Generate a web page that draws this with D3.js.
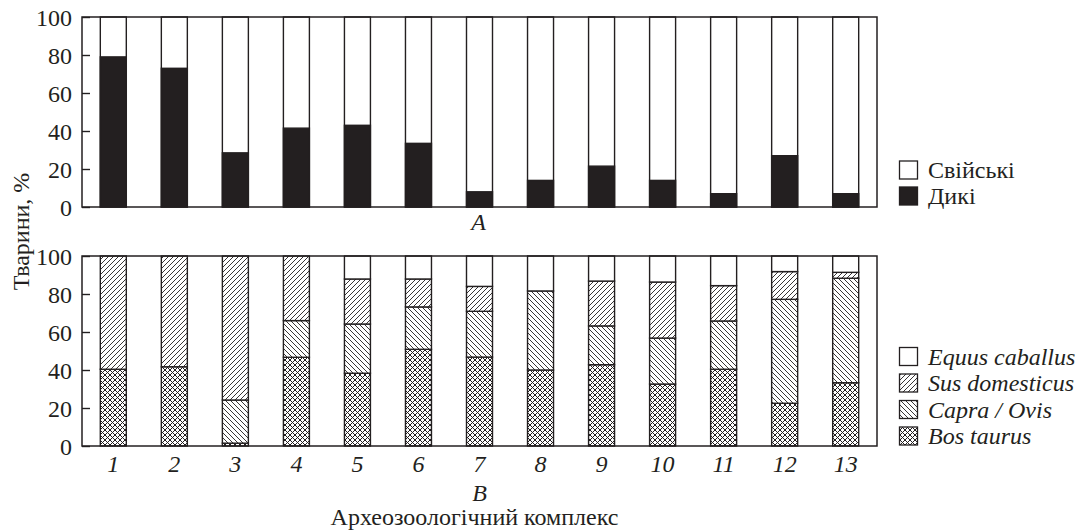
<!DOCTYPE html>
<html>
<head>
<meta charset="utf-8">
<script src="https://cdn.jsdelivr.net/npm/d3@7"></script>
</head>
<body style="margin:0;background:#fff">
<svg id="chart" width="1077" height="530" font-family="Liberation Serif"></svg>
<script>
// Archaeozoological complexes 1–13
const complexes = ["1","2","3","4","5","6","7","8","9","10","11","12","13"];

// Panel A: share of wild animals, %  (domestic = remainder to 100)
const wild = [79, 73, 28.5, 41.5, 43, 33.5, 8, 14, 21.5, 14, 7, 27, 7];

// Panel B: species composition of domestic animals, %
const bosTaurus     = [40.4, 41.7, 1.5, 46.7, 38.3, 50.9, 46.8, 40.0, 42.8, 32.6, 40.4, 22.5, 33.3];
const capraOvis     = [0, 0, 22.7, 19.3, 25.9, 22.3, 24.1, 41.6, 20.4, 24.2, 25.4, 54.7, 55.0];
const susDomesticus = [59.6, 58.3, 75.8, 34.0, 23.7, 14.7, 13.1, 0, 23.6, 29.5, 18.6, 14.6, 3.1];
const equusCaballus = [0, 0, 0, 0, 12.1, 12.1, 16.0, 18.4, 13.2, 13.7, 15.6, 8.2, 8.6];

const yTicks = [0, 20, 40, 60, 80, 100];
const legendA = ["Свійські", "Дикі"];
const legendB = ["Equus caballus", "Sus domesticus", "Capra / Ovis", "Bos taurus"];

const INK = "#231f20";
const FONT = "Liberation Serif";
const FS = 24;
const svg = d3.select("#chart");
svg.append("rect").attr("width", 1077).attr("height", 530).attr("fill", "#fff");

function label(parent, txt) {
  return parent.append("text").attr("font-family", FONT)
    .style("font-family", '"Liberation Serif"').attr("font-size", FS)
    .attr("fill", INK).text(txt);
}

// Hatch patterns
const defs = svg.append("defs");
const S = 5;
function pattern(id, paths, sw) {
  const p = defs.append("pattern").attr("id", id)
    .attr("patternUnits", "userSpaceOnUse").attr("width", S).attr("height", S);
  p.append("rect").attr("width", S).attr("height", S).attr("fill", "#fff");
  paths.forEach(d => p.append("path").attr("d", d)
    .attr("stroke", INK).attr("stroke-width", sw).attr("fill", "none"));
}
const fwd = `M0,${S} L${S},0 M${-1},1 L1,${-1} M${S-1},${S+1} L${S+1},${S-1}`;
const back = `M0,0 L${S},${S} M${-1},${S-1} L1,${S+1} M${S-1},${-1} L${S+1},1`;
pattern("hatch-fwd", [fwd], 0.9);
pattern("hatch-back", [back], 0.9);
pattern("hatch-cross", [fwd, back], 1.0);

const left = 82, right = 877;
const x = d3.scaleBand().domain(complexes).range([left, right])
  .paddingInner(0.574).paddingOuter(0.3);

function drawFrame(top, bottom) {
  const y = d3.scaleLinear().domain([0, 100]).range([bottom, top]);
  const g = svg.append("g").attr("transform", `translate(${left},0)`);
  g.call(d3.axisLeft(y).tickValues(yTicks).tickSize(-8).tickPadding(10)
      .tickFormat(d3.format("d")))
    .attr("font-family", FONT).attr("font-size", FS)
    .call(a => a.select(".domain").remove())
    .call(a => a.selectAll("line").attr("stroke", INK).attr("stroke-width", 1.4))
    .call(a => a.selectAll("text").attr("fill", INK).attr("font-family", FONT)
      .style("font-family", '"Liberation Serif"').attr("dy", "0.34em"));
  return y;
}
function drawBox(top, bottom) {
  svg.append("rect").attr("x", left).attr("y", top)
    .attr("width", right - left).attr("height", bottom - top)
    .attr("fill", "none").attr("stroke", INK).attr("stroke-width", 1.5);
}

// ---------- Panel A ----------
const topA = 17, botA = 207;
const yA = drawFrame(topA, botA);
const gA = svg.append("g");
gA.selectAll("rect.dom").data(complexes).join("rect")
  .attr("x", d => x(d)).attr("width", x.bandwidth())
  .attr("y", yA(100)).attr("height", yA(0) - yA(100))
  .attr("fill", "#fff").attr("stroke", INK).attr("stroke-width", 1.4);
gA.selectAll("rect.wild").data(complexes).join("rect")
  .attr("x", d => x(d)).attr("width", x.bandwidth())
  .attr("y", (d, i) => yA(wild[i])).attr("height", (d, i) => yA(0) - yA(wild[i]))
  .attr("fill", INK).attr("stroke", INK).attr("stroke-width", 1.4);
drawBox(topA, botA);

label(svg, "A").attr("x", (left + right) / 2 - 1).attr("y", 230)
  .attr("text-anchor", "middle").attr("font-style", "italic");

// Legend A
const legAFill = ["#fff", INK];
legendA.forEach((t, i) => {
  const yy = 161 + i * 26;
  svg.append("rect").attr("x", 899.5).attr("y", yy).attr("width", 18).attr("height", 18)
    .attr("fill", legAFill[i]).attr("stroke", INK).attr("stroke-width", 1.3);
  label(svg, t).attr("x", 928).attr("y", yy + 17);
});

// ---------- Panel B ----------
const topB = 256, botB = 446;
const yB = drawFrame(topB, botB);
const keys = ["bos", "capra", "sus", "equus"];
const fills = {bos: "url(#hatch-cross)", capra: "url(#hatch-back)",
               sus: "url(#hatch-fwd)", equus: "#fff"};
const rows = complexes.map((c, i) => ({
  c, bos: bosTaurus[i], capra: capraOvis[i], sus: susDomesticus[i], equus: equusCaballus[i]
}));
const series = d3.stack().keys(keys)(rows);
const gB = svg.append("g");
gB.selectAll("g").data(series).join("g")
  .attr("fill", s => fills[s.key])
  .selectAll("rect").data(s => s.filter(d => d[1] - d[0] > 0)).join("rect")
  .attr("x", d => x(d.data.c)).attr("width", x.bandwidth())
  .attr("y", d => yB(d[1])).attr("height", d => yB(d[0]) - yB(d[1]))
  .attr("stroke", INK).attr("stroke-width", 1.4);
drawBox(topB, botB);

// x-axis labels
const gx = svg.append("g");
complexes.forEach(c => {
  label(gx, c).attr("x", x(c) + x.bandwidth() / 2).attr("y", 472)
    .attr("text-anchor", "middle").attr("font-style", "italic");
});

label(svg, "B").attr("x", (left + right) / 2).attr("y", 501)
  .attr("text-anchor", "middle").attr("font-style", "italic");
label(svg, "Археозоологічний комплекс").attr("x", (left + right) / 2 - 5).attr("y", 525)
  .attr("text-anchor", "middle");

// y-axis title
label(svg, "Тварини, %").attr("transform", "translate(29,231.5) rotate(-90)")
  .attr("text-anchor", "middle");

// Legend B
const legBFill = [fills.equus, fills.sus, fills.capra, fills.bos];
legendB.forEach((t, i) => {
  const yy = 347.5 + i * 26.5;
  svg.append("rect").attr("x", 899.5).attr("y", yy).attr("width", 18).attr("height", 18)
    .attr("fill", legBFill[i]).attr("stroke", INK).attr("stroke-width", 1.3);
  label(svg, t).attr("x", 928).attr("y", yy + 17).attr("font-style", "italic");
});
</script>
</body>
</html>
